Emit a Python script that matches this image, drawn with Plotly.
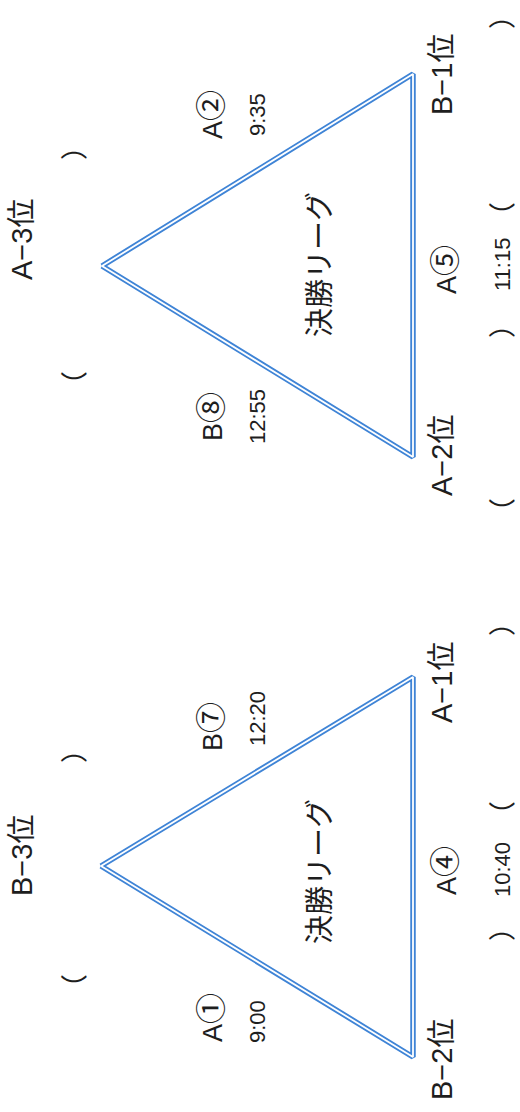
import plotly.graph_objects as go

# ---- data ----
# triangle vertices (apex, upper corner, lower corner, apex again) in page units
tri_top_x = [102, 413, 413, 102]
tri_top_y = [266, 74, 457, 266]
tri_bot_x = [101, 413, 413, 101]
tri_bot_y = [866, 677, 1057, 866]

title_text = "決勝リーグ"
title_x = [317, 317]
title_y = [265, 872]

corner_text = ["A−3位", "B−1位", "A−2位", "B−3位", "A−1位", "B−2位"]
corner_x = [22, 442, 442, 22, 442, 442]
corner_y = [240, 75, 456, 856, 683, 1060]

match_team = ["A", "B", "A", "B", "A", "A"]
match_no = ["②", "⑧", "⑤", "⑦", "①", "④"]
match_x = [208, 208, 442, 208, 208, 442]
match_y = [115, 417, 270, 727, 1018, 871]

time_text = ["9:35", "12:55", "11:15", "12:20", "9:00", "10:40"]
time_x = [257, 257, 502, 257, 257, 502]
time_y = [115, 417, 265, 719, 1022, 870]

paren_text = ["）", "（", "）", "（", "）", "（",
              "）", "（", "）", "（", "）"]
paren_x = [72, 72, 500, 500, 500, 500,
           72, 72, 500, 500, 500]
paren_y = [147, 385, 16, 216, 325, 512,
           750, 988, 623, 815, 928]

# ---- figure ----
BLUE = "#3f84d6"
INK = "#1e1e1e"
LATIN = "Liberation Sans, Arial, Noto Sans CJK JP"
CJK = "Noto Sans CJK JP"

fig = go.Figure()
for tx, ty in [(tri_top_x, tri_top_y), (tri_bot_x, tri_bot_y)]:
    fig.add_trace(go.Scatter(x=tx, y=ty, mode="lines",
                             line=dict(color=BLUE, width=5.5),
                             hoverinfo="skip", showlegend=False))
    fig.add_trace(go.Scatter(x=tx, y=ty, mode="lines",
                             line=dict(color="white", width=1.8),
                             hoverinfo="skip", showlegend=False))

def add_labels(texts, xs, ys, size, family):
    for t, x, y in zip(texts, xs, ys):
        fig.add_annotation(x=x, y=y, text=t, showarrow=False, textangle=-90,
                           xanchor="center", yanchor="middle",
                           font=dict(size=size, color=INK, family=family))

match_text = [f"{t}<span style='font-family:{CJK};font-size:31px'>{n}</span>"
              for t, n in zip(match_team, match_no)]

add_labels([title_text] * len(title_x), title_x, title_y, 29, CJK)
add_labels(corner_text, corner_x, corner_y, 29, LATIN)
add_labels(match_text, match_x, match_y, 27, LATIN)
add_labels(time_text, time_x, time_y, 22, LATIN)
add_labels(paren_text, paren_x, paren_y, 27, CJK)

fig.update_layout(
    width=520, height=1112,
    margin=dict(l=0, r=0, t=0, b=0),
    paper_bgcolor="white", plot_bgcolor="white",
    xaxis=dict(range=[0, 520], visible=False, fixedrange=True),
    yaxis=dict(range=[1112, 0], visible=False, fixedrange=True),
)
fig.write_html(
    "out.html",
    config={"displayModeBar": False},
    post_script="document.body.style.margin='0';document.body.style.overflow='hidden';",
)
